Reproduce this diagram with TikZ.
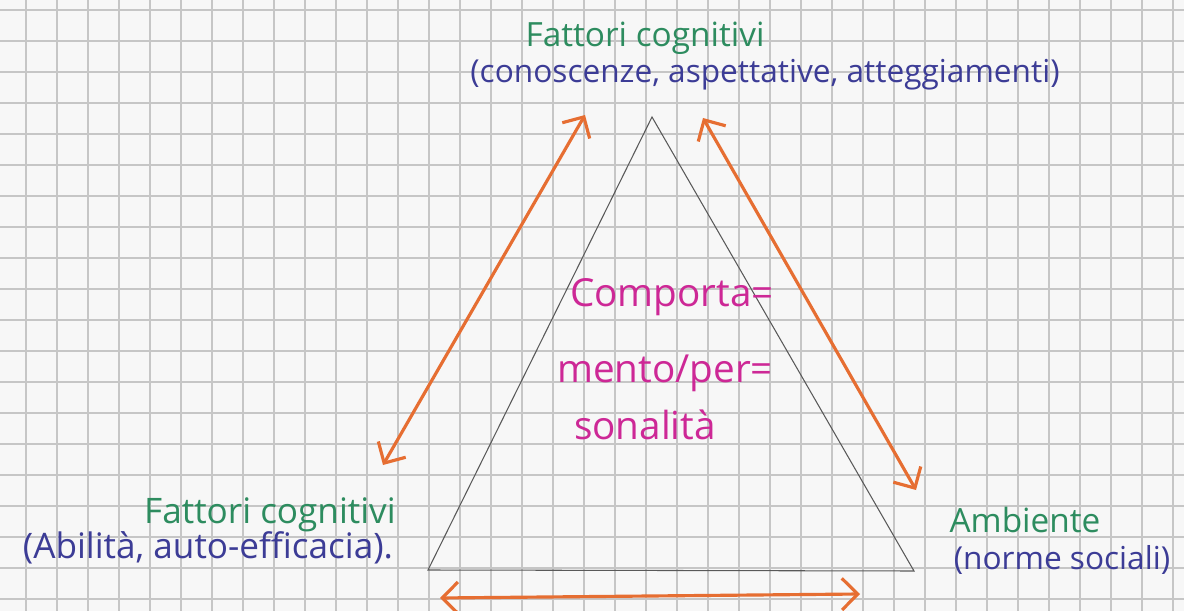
\documentclass[tikz,border=0pt]{standalone}
\usepackage{fontspec}
\setmainfont{Open Sans}
\usetikzlibrary{arrows.meta}

\definecolor{penGreen}{RGB}{45,140,95}
\definecolor{penBlue}{RGB}{60,60,150}
\definecolor{penPink}{RGB}{205,40,150}
\definecolor{penOrange}{RGB}{230,110,50}

\begin{document}
\begin{tikzpicture}[x=0.02cm, y=-0.02cm,
    gridline/.style={gray!45, line width=0.7pt},
    side/.style={gray!70!black, line width=0.6pt},
    link/.style={penOrange, line width=1.8pt, {Straight Barb[length=9pt,width=18pt]}-{Straight Barb[length=9pt,width=18pt]}},
    title/.style={penGreen, font=\fontsize{19}{22}\selectfont},
    detail/.style={penBlue, font=\fontsize{18}{21}\selectfont},
    core/.style={penPink, font=\fontsize{22}{26}\selectfont}]
    \useasboundingbox[fill=gray!6] (0,0) rectangle (1184,611);
    % squared paper
    \foreach \gx in {26,57,...,1184} \draw[gridline] (\gx,0) -- (\gx,611);
    \foreach \gy in {10,41,...,611} \draw[gridline] (0,\gy) -- (1184,\gy);

    % triangle
    \coordinate (top) at (652,117);
    \coordinate (left) at (428,570);
    \coordinate (right) at (914,571);
    \draw[side] (top) -- (left) -- (right) -- cycle;

    % labels
    \node[title] (cogTop) at (645,38) {Fattori cognitivi};
    \node[detail] (cogTopSub) at (765,75) {(conoscenze, aspettative, atteggiamenti)};
    \node[title, font=\fontsize{20}{23}\selectfont] (cogLeft) at (270,515) {Fattori cognitivi};
    \node[detail, font=\fontsize{20}{23}\selectfont] (cogLeftSub) at (208,548) {(Abilità, auto-efficacia).};
    \node[title] (env) at (1025,520) {Ambiente};
    \node[detail] (envSub) at (1062,560) {(norme sociali)};
    \node[core] (beh1) at (672,297) {Comporta=};
    \node[core] (beh2) at (665,373) {mento/per=};
    \node[core] (beh3) at (645,425) {sonalità};

    % arrows
    \coordinate (aL1) at (383,465);
    \coordinate (aL2) at (585,115);
    \coordinate (aR1) at (703,118);
    \coordinate (aR2) at (916,490);
    \coordinate (aB1) at (440,598);
    \coordinate (aB2) at (860,594);
    \draw[link] (aL1) -- (aL2);
    \draw[link] (aR1) -- (aR2);
    \draw[link] (aB1) -- (aB2);
\end{tikzpicture}
\end{document}
